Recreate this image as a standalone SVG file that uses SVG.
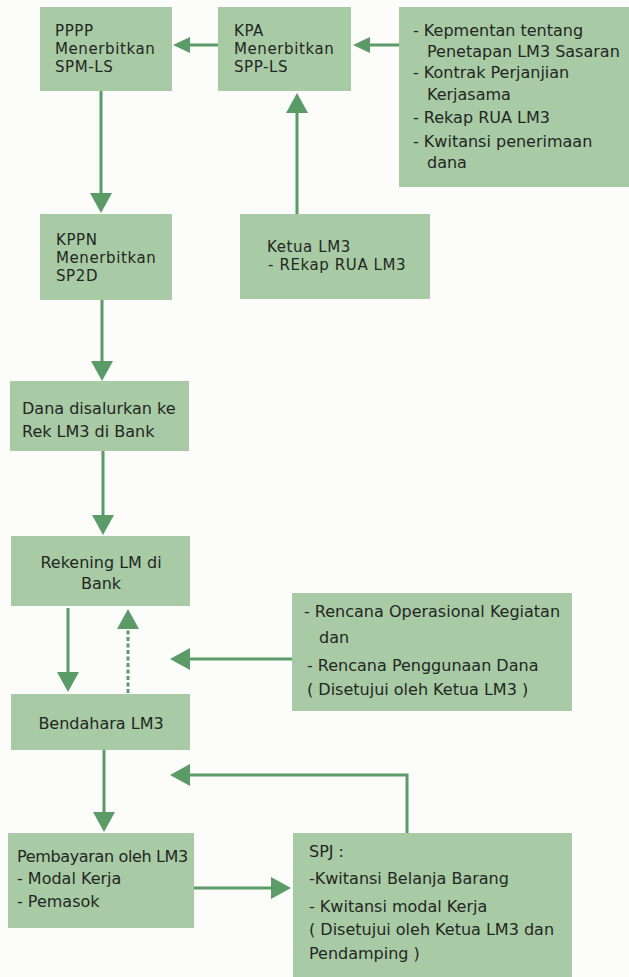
<svg xmlns="http://www.w3.org/2000/svg" width="629" height="977" viewBox="0 0 629 977">
<style>
.bg{fill:#fcfcfa}
.box{fill:#a8cba5}
.t{font-family:"DejaVu Sans",Verdana,sans-serif;font-size:16px;fill:#232723}
.s{font-size:15px;letter-spacing:0.6px}
.n{letter-spacing:-0.35px}
.c{text-anchor:middle}
.ln{fill:none;stroke:#5b9b67;stroke-width:3}
.big{marker-end:url(#ah)}
.sm{marker-end:url(#as)}
.dot{stroke-dasharray:4 2.5}
</style>
<defs>
<marker id="ah" viewBox="0 0 20 22" refX="3" refY="11" markerWidth="20" markerHeight="22" markerUnits="userSpaceOnUse" orient="auto">
<path d="M0,0 L20,11 L0,22 Z" fill="#5b9b67"/>
</marker>
<marker id="as" viewBox="0 0 17 16" refX="3" refY="8" markerWidth="17" markerHeight="16" markerUnits="userSpaceOnUse" orient="auto">
<path d="M0,0 L17,8 L0,16 Z" fill="#5b9b67"/>
</marker>
</defs>
<rect class="bg" x="0" y="0" width="629" height="977"/>

<g id="connectors">
<path class="ln sm" d="M218,45 H187"/>
<path class="ln sm" d="M399,45 H367"/>
<path class="ln big" d="M101,91 V196"/>
<path class="ln big" d="M297,214 V110"/>
<path class="ln big" d="M102,300 V364"/>
<path class="ln big" d="M103,451 V518"/>
<path class="ln big" d="M68,608 V675"/>
<path class="ln big dot" d="M128,693 V626"/>
<path class="ln big" d="M292,659 H187"/>
<path class="ln big" d="M104,750 V815"/>
<path class="ln big" d="M407,833 V775 H187"/>
<path class="ln big" d="M194,888 H274"/>
</g>

<g id="pppp">
<rect class="box" x="40" y="7" width="132" height="84"/>
<text class="t s" x="55" y="36">PPPP</text>
<text class="t s" x="55" y="54">Menerbitkan</text>
<text class="t s" x="55" y="72">SPM-LS</text>
</g>

<g id="kpa">
<rect class="box" x="218" y="7" width="133" height="84"/>
<text class="t s" x="234" y="36">KPA</text>
<text class="t s" x="234" y="54">Menerbitkan</text>
<text class="t s" x="234" y="72">SPP-LS</text>
</g>

<g id="dokumen">
<rect class="box" x="399" y="7" width="230" height="180"/>
<text class="t" x="413" y="36">- Kepmentan tentang</text>
<text class="t" x="427" y="57">Penetapan LM3 Sasaran</text>
<text class="t" x="413" y="78">- Kontrak Perjanjian</text>
<text class="t" x="427" y="100">Kerjasama</text>
<text class="t" x="413" y="123">- Rekap RUA LM3</text>
<text class="t" x="413" y="147">- Kwitansi penerimaan</text>
<text class="t" x="427" y="168">dana</text>
</g>

<g id="kppn">
<rect class="box" x="40" y="214" width="132" height="86"/>
<text class="t s" x="56" y="245">KPPN</text>
<text class="t s" x="56" y="263">Menerbitkan</text>
<text class="t s" x="56" y="281">SP2D</text>
</g>

<g id="ketua">
<rect class="box" x="240" y="214" width="190" height="85"/>
<text class="t s" x="267" y="252">Ketua LM3</text>
<text class="t s" x="268" y="270">- REkap RUA LM3</text>
</g>

<g id="dana">
<rect class="box" x="10" y="381" width="179" height="70"/>
<text class="t" x="22" y="414">Dana disalurkan ke</text>
<text class="t" x="22" y="437">Rek LM3 di Bank</text>
</g>

<g id="rekening">
<rect class="box" x="11" y="536" width="179" height="70"/>
<text class="t c" x="101" y="568">Rekening LM di</text>
<text class="t c" x="101" y="589">Bank</text>
</g>

<g id="rencana">
<rect class="box" x="292" y="593" width="280" height="118"/>
<text class="t" x="304" y="617">- Rencana Operasional Kegiatan</text>
<text class="t" x="319" y="643">dan</text>
<text class="t" x="307" y="671">- Rencana Penggunaan Dana</text>
<text class="t" x="307" y="695">( Disetujui oleh Ketua LM3 )</text>
</g>

<g id="bendahara">
<rect class="box" x="11" y="694" width="179" height="56"/>
<text class="t c" x="101" y="729">Bendahara LM3</text>
</g>

<g id="pembayaran">
<rect class="box" x="8" y="833" width="186" height="95"/>
<text class="t n" x="17" y="862">Pembayaran oleh LM3</text>
<text class="t" x="17" y="884">- Modal Kerja</text>
<text class="t" x="17" y="907">- Pemasok</text>
</g>

<g id="spj">
<rect class="box" x="293" y="833" width="279" height="144"/>
<text class="t" x="309" y="857">SPJ :</text>
<text class="t" x="309" y="884">-Kwitansi Belanja Barang</text>
<text class="t" x="309" y="912">- Kwitansi modal Kerja</text>
<text class="t" x="309" y="935">( Disetujui oleh Ketua LM3 dan</text>
<text class="t" x="309" y="959">Pendamping )</text>
</g>
</svg>
